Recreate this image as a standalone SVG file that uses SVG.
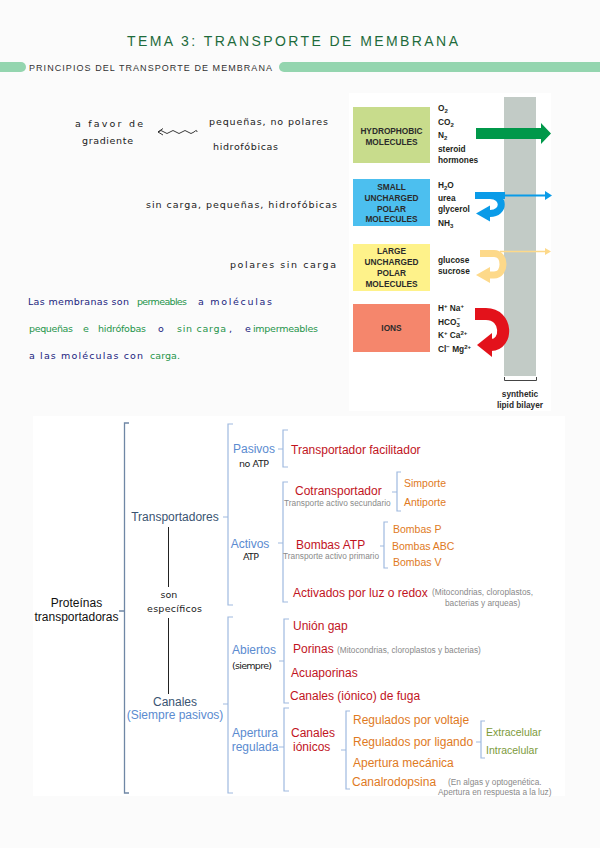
<svg xmlns="http://www.w3.org/2000/svg" width="600" height="848" viewBox="0 0 600 848">
<style>
.hw{font-family:"DejaVu Sans",sans-serif;font-size:9.5px;fill:#1a1a1a}
.nv{fill:#1a237e}
.gn{fill:#25944a}
.t{font-family:"Liberation Sans",Arial,sans-serif;font-size:12px}
.s{font-family:"Liberation Sans",Arial,sans-serif;font-size:10.5px}
.red{fill:#c1141e}
.org{fill:#e07a1e}
.blu{fill:#5b8bd0}
.dk{fill:#3a5472}
.grn{fill:#7c9a3a}
.gry{font-family:"Liberation Sans",Arial,sans-serif;font-size:8.3px;fill:#8a8a8a}
.br{fill:none;stroke:#9fbadf;stroke-width:1.2}
.brm{fill:none;stroke:#6f87a5;stroke-width:1.3}
.fig{font-family:"Liberation Sans",Arial,sans-serif;font-weight:bold;font-size:8.3px;fill:#231f20}
.bx{font-family:"Liberation Sans",Arial,sans-serif;font-weight:bold;font-size:8.3px;fill:#2b2b2b;text-anchor:middle}
.sb{font-size:6px}
</style>
<rect width="600" height="848" fill="#fbfbfb"/>

<g id="header">
<text x="127" y="46" font-family="Liberation Sans, sans-serif" font-size="14" fill="#1e6b3b" textLength="331" lengthAdjust="spacing">TEMA 3: TRANSPORTE DE MEMBRANA</text>
<path d="M0 62 H21 A5 5 0 0 1 21 72 H0 Z" fill="#94d5af"/>
<path d="M284 62 H600 V72 H284 A5 5 0 0 1 284 62 Z" fill="#94d5af"/>
<text x="29" y="71" font-family="Liberation Sans, sans-serif" font-size="9" fill="#333" textLength="243" lengthAdjust="spacing">PRINCIPIOS DEL TRANSPORTE DE MEMBRANA</text>
</g>

<g id="notes">
<text class="hw" x="75" y="127" textLength="68" lengthAdjust="spacing">a favor de</text>
<text class="hw" x="82" y="144" textLength="51" lengthAdjust="spacing">gradiente</text>
<path d="M163 128.5 L158 132 L163 135 M158 132 q3 -3 6 0 t6 0 t6 0 t6 0 t6 0 t6 0 t3 0" fill="none" stroke="#222" stroke-width="0.9"/>
<text class="hw" x="209" y="125" textLength="119" lengthAdjust="spacing">pequeñas, no polares</text>
<text class="hw" x="213" y="150" textLength="65" lengthAdjust="spacing">hidrofóbicas</text>
<text class="hw" x="146" y="208" textLength="191" lengthAdjust="spacing">sin carga, pequeñas, hidrofóbicas</text>
<text class="hw" x="230" y="268" textLength="106" lengthAdjust="spacing">polares sin carga</text>

<text class="hw nv" x="28" y="305" textLength="101" lengthAdjust="spacing">Las membranas son</text>
<text class="hw gn" x="137" y="305" textLength="50" lengthAdjust="spacing">permeables</text>
<text class="hw nv" x="198" y="305" textLength="74" lengthAdjust="spacing">a moléculas</text>
<text class="hw gn" x="29" y="332" textLength="44" lengthAdjust="spacing">pequeñas</text>
<text class="hw gn" x="83" y="332">e</text>
<text class="hw gn" x="98" y="332" textLength="48" lengthAdjust="spacing">hidrófobas</text>
<text class="hw nv" x="158" y="332">o</text>
<text class="hw gn" x="177" y="332" textLength="49" lengthAdjust="spacing">sin carga</text>
<text class="hw nv" x="229" y="332">,</text>
<text class="hw nv" x="245" y="332">e</text>
<text class="hw gn" x="253" y="332" textLength="65" lengthAdjust="spacing">impermeables</text>
<text class="hw nv" x="29" y="359" textLength="114" lengthAdjust="spacing">a las moléculas con</text>
<text class="hw gn" x="150" y="359" textLength="30" lengthAdjust="spacing">carga.</text>
</g>

<g id="membrane-figure">
<rect x="349" y="93" width="202" height="318" fill="#ffffff"/>
<rect x="504" y="97" width="32" height="279" fill="#c2cbc6"/>
<path d="M504.5 377 V380.5 H536.5 V377" fill="none" stroke="#444" stroke-width="1"/>
<text class="bx" x="520" y="397">synthetic</text>
<text class="bx" x="520" y="408">lipid bilayer</text>

<g id="hydrophobic">
<rect x="353" y="107" width="77" height="56" fill="#c8dc8c"/>
<text class="bx" x="391.5" y="134">HYDROPHOBIC</text>
<text class="bx" x="391.5" y="145">MOLECULES</text>
<text class="fig" x="438" y="111">O<tspan class="sb" dy="2">2</tspan></text>
<text class="fig" x="438" y="125">CO<tspan class="sb" dy="2">2</tspan></text>
<text class="fig" x="438" y="138">N<tspan class="sb" dy="2">2</tspan></text>
<text class="fig" x="438" y="152">steroid</text>
<text class="fig" x="438" y="163">hormones</text>
<path d="M476 128 H541 V123 L551 133.5 L541 144 V139 H476 Z" fill="#00984a"/>
</g>

<g id="small-polar">
<rect x="353" y="179" width="77" height="47" fill="#4cbfef"/>
<text class="bx" x="391.5" y="190">SMALL</text>
<text class="bx" x="391.5" y="201">UNCHARGED</text>
<text class="bx" x="391.5" y="212">POLAR</text>
<text class="bx" x="391.5" y="222">MOLECULES</text>
<text class="fig" x="438" y="188">H<tspan class="sb" dy="2">2</tspan><tspan dy="-2">O</tspan></text>
<text class="fig" x="438" y="201">urea</text>
<text class="fig" x="438" y="212">glycerol</text>
<text class="fig" x="438" y="226">NH<tspan class="sb" dy="2">3</tspan></text>
<rect x="475" y="192" width="30" height="7" fill="#0a9be8"/>
<line x1="504" y1="195.5" x2="546" y2="195.5" stroke="#0a9be8" stroke-width="2"/>
<path d="M545 191 L552 195.5 L545 200 Z" fill="#0a9be8"/>
<path d="M490 195.5 C505 195.5 505 213.5 490 213.5" fill="none" stroke="#0a9be8" stroke-width="7"/>
<path d="M476 213.5 L490 205.5 L490 221.5 Z" fill="#0a9be8"/>
</g>

<g id="large-polar">
<rect x="353" y="244" width="77" height="47" fill="#fef28a"/>
<text class="bx" x="391.5" y="254">LARGE</text>
<text class="bx" x="391.5" y="265">UNCHARGED</text>
<text class="bx" x="391.5" y="276">POLAR</text>
<text class="bx" x="391.5" y="287">MOLECULES</text>
<text class="fig" x="438" y="263">glucose</text>
<text class="fig" x="438" y="274">sucrose</text>
<line x1="500" y1="251.5" x2="546" y2="251.5" stroke="#fdd98a" stroke-width="1.3"/>
<path d="M545 248 L551 251.5 L545 255 Z" fill="#fdd98a"/>
<path d="M480 253.5 H494 C506 253.5 506 275 494 275 H490" fill="none" stroke="#fdd98a" stroke-width="7"/>
<path d="M476 275 L490 267 L490 283 Z" fill="#fdd98a"/>
</g>

<g id="ions">
<rect x="353" y="304" width="77" height="48" fill="#f5866c"/>
<text class="bx" x="391.5" y="331">IONS</text>
<text class="fig" x="438" y="311">H<tspan class="sb" dy="-3">+</tspan><tspan dy="3"> Na</tspan><tspan class="sb" dy="-3">+</tspan></text>
<text class="fig" x="438" y="325">HCO<tspan class="sb" dy="2">3</tspan><tspan class="sb" dx="-3" dy="-6">−</tspan></text>
<text class="fig" x="438" y="338">K<tspan class="sb" dy="-3">+</tspan><tspan dy="3"> Ca</tspan><tspan class="sb" dy="-3">2+</tspan></text>
<text class="fig" x="438" y="352">Cl<tspan class="sb" dy="-3">−</tspan><tspan dy="3"> Mg</tspan><tspan class="sb" dy="-3">2+</tspan></text>
<path d="M475 314 H486 C508 314 508 345 491 345" fill="none" stroke="#e3121b" stroke-width="12"/>
<path d="M477 345 L492 333 L492 357 Z" fill="#e3121b"/>
</g>
</g>

<rect x="33" y="416" width="532" height="380" fill="#ffffff"/>

<g id="connectors">
<path class="brm" d="M129 423 H124.5 V793 H129 M124.5 611 H119"/>
<path class="br" d="M233 424 H228 V605 H233 M228 517 H223"/>
<path class="br" d="M233 617 H228 V793 H233 M228 704 H223"/>
<path class="br" d="M288 430 H283 V467 H288 M283 449 H278"/>
<path class="br" d="M288 482 H283 V602 H288 M283 543 H278"/>
<path class="br" d="M289 619 H284 V703 H289 M284 661 H279"/>
<path class="br" d="M289 708 H284 V791 H289 M284 747 H279"/>
<path class="br" d="M401 472 H397 V511 H401 M397 492 H392"/>
<path class="br" d="M388 522 H384 V568 H388 M384 546 H380"/>
<path class="br" d="M350 711 H346 V789 H350 M346 750 H341"/>
<path class="br" d="M485 721 H481 V758 H485 M481 742 H476"/>
<line x1="168.5" y1="527" x2="168.5" y2="587" stroke="#222" stroke-width="1"/>
<line x1="168.5" y1="618" x2="168.5" y2="694" stroke="#222" stroke-width="1"/>
</g>

<g id="proteinas">
<text class="t" x="76.5" y="607" text-anchor="middle" fill="#111">Proteínas</text>
<text class="t" x="76.5" y="621" text-anchor="middle" fill="#111">transportadoras</text>
</g>
<g id="transportadores">
<text class="t dk" x="175" y="521" text-anchor="middle">Transportadores</text>
</g>
<g id="son-especificos">
<text class="hw" x="169" y="598" text-anchor="middle" font-size="8.5">son</text>
<text class="hw" x="147" y="612" font-size="8.5" textLength="55" lengthAdjust="spacing">específicos</text>
</g>
<g id="canales">
<text class="t dk" x="175" y="706" text-anchor="middle">Canales</text>
<text class="t blu" x="175" y="719" text-anchor="middle">(Siempre pasivos)</text>
</g>
<g id="pasivos">
<text class="t blu" x="254" y="453" text-anchor="middle">Pasivos</text>
<text class="hw" x="239" y="467" font-size="8.5" textLength="30" lengthAdjust="spacing">no ATP</text>
</g>
<g id="activos">
<text class="t blu" x="250" y="548" text-anchor="middle">Activos</text>
<text class="hw" x="243" y="560" font-size="8.5" textLength="16" lengthAdjust="spacing">ATP</text>
</g>
<g id="abiertos">
<text class="t blu" x="254" y="654" text-anchor="middle">Abiertos</text>
<text class="hw" x="232" y="669" font-size="8.5" textLength="40" lengthAdjust="spacing">(siempre)</text>
</g>
<g id="apertura-regulada">
<text class="t blu" x="255" y="737" text-anchor="middle">Apertura</text>
<text class="t blu" x="255" y="751" text-anchor="middle">regulada</text>
</g>

<g id="transportador-facilitador"><text class="t red" x="291" y="454">Transportador facilitador</text></g>
<g id="cotransportador">
<text class="t red" x="295" y="495">Cotransportador</text>
<text class="gry" x="284" y="505.5">Transporte activo secundario</text>
</g>
<g id="simporte"><text class="s org" x="404" y="487">Simporte</text></g>
<g id="antiporte"><text class="s org" x="404" y="506">Antiporte</text></g>
<g id="bombas-atp">
<text class="t red" x="296" y="549">Bombas ATP</text>
<text class="gry" x="283" y="558.5">Transporte activo primario</text>
</g>
<g id="bombas-p"><text class="s org" x="393" y="533">Bombas P</text></g>
<g id="bombas-abc"><text class="s org" x="392" y="550">Bombas ABC</text></g>
<g id="bombas-v"><text class="s org" x="393" y="566">Bombas V</text></g>
<g id="activados-luz">
<text class="t red" x="293" y="597">Activados por luz o redox</text>
<text class="gry" x="432" y="595">(Mitocondrias, cloroplastos,</text>
<text class="gry" x="445" y="606">bacterias y arqueas)</text>
</g>

<g id="union-gap"><text class="t red" x="293" y="630">Unión gap</text></g>
<g id="porinas">
<text class="t red" x="293" y="653">Porinas</text>
<text class="gry" x="337" y="653">(Mitocondrias, cloroplastos y bacterias)</text>
</g>
<g id="acuaporinas"><text class="t red" x="291" y="677">Acuaporinas</text></g>
<g id="canales-fuga"><text class="t red" x="290" y="700">Canales (iónico) de fuga</text></g>
<g id="canales-ionicos">
<text class="t red" x="291" y="737">Canales</text>
<text class="t red" x="293" y="751">iónicos</text>
</g>
<g id="voltaje"><text class="t org" x="353" y="724">Regulados por voltaje</text></g>
<g id="ligando"><text class="t org" x="353" y="746">Regulados por ligando</text></g>
<g id="extracelular"><text class="s grn" x="486" y="736">Extracelular</text></g>
<g id="intracelular"><text class="s grn" x="486" y="754">Intracelular</text></g>
<g id="mecanica"><text class="t org" x="353" y="767">Apertura mecánica</text></g>
<g id="canalrodopsina">
<text class="t org" x="352" y="786">Canalrodopsina</text>
<text class="gry" x="448" y="785">(En algas y optogenética.</text>
<text class="gry" x="438" y="795">Apertura en respuesta a la luz)</text>
</g>
</svg>
